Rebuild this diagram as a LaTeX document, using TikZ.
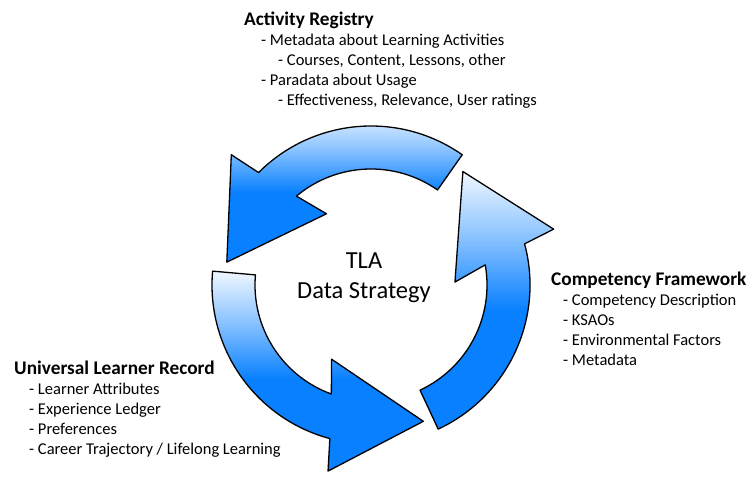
\documentclass[tikz,border=0pt]{standalone}
\usepackage{fontspec}
\setmainfont{Carlito}
\definecolor{tlablue}{RGB}{8,128,255}
\definecolor{tlalight}{RGB}{240,247,255}
\pgfdeclareverticalshading{tlashade}{100bp}{color(0bp)=(tlablue); color(25bp)=(tlablue);
  color(48bp)=(tlablue); color(62bp)=(tlablue!45!tlalight); color(75bp)=(tlalight); color(100bp)=(tlalight)}
\tikzset{
  cyclearrow/.style={draw=black, line width=1.3pt, line join=round, shading=tlashade},
  listtext/.style={anchor=base west, align=left, inner sep=0pt,
    font=\fontsize{16.5}{20}\selectfont},
}
\newcommand\headline[1]{{\fontsize{19.3}{21}\selectfont\bfseries #1}}

\begin{document}
\begin{tikzpicture}[x=1pt,y=1pt]
  \useasboundingbox (0,0) rectangle (751,477);
  % the three arrows of the cycle
  \begin{scope}[shift={(371,192)}]
    \foreach \a in {55,175,295}{
      \shade[cyclearrow] (\a:116) arc[start angle=\a, end angle=\a+75, radius=116]
        -- ({\a+67}:84) -- ({\a+116}:146) -- ({\a+82}:191)
        -- ({\a+80}:159) arc[start angle=\a+80, end angle=\a, radius=159] -- cycle;
    }
  \end{scope}
  \node[font=\fontsize{24.5}{30}\selectfont, align=center] (tla) at (364,199) {TLA\\Data Strategy};
  % anchor is the baseline of the last line
  \node[listtext] (ar) at (244,371) {\headline{Activity Registry}\\
    \hspace*{17pt}- Metadata about Learning Activities\\
    \hspace*{34pt}- Courses, Content, Lessons, other\\
    \hspace*{17pt}- Paradata about Usage\\
    \hspace*{34pt}- Effectiveness, Relevance, User ratings};
  \node[listtext] (cf) at (551,112) {\headline{Competency Framework}\\
    \hspace*{12pt}- Competency Description\\
    \hspace*{12pt}- KSAOs\\
    \hspace*{12pt}- Environmental Factors\\
    \hspace*{12pt}- Metadata};
  \node[listtext] (ulr) at (14,23) {\headline{Universal Learner Record}\\
    \hspace*{15pt}- Learner Attributes\\
    \hspace*{15pt}- Experience Ledger\\
    \hspace*{15pt}- Preferences\\
    \hspace*{15pt}- Career Trajectory / Lifelong Learning};
\end{tikzpicture}
\end{document}
